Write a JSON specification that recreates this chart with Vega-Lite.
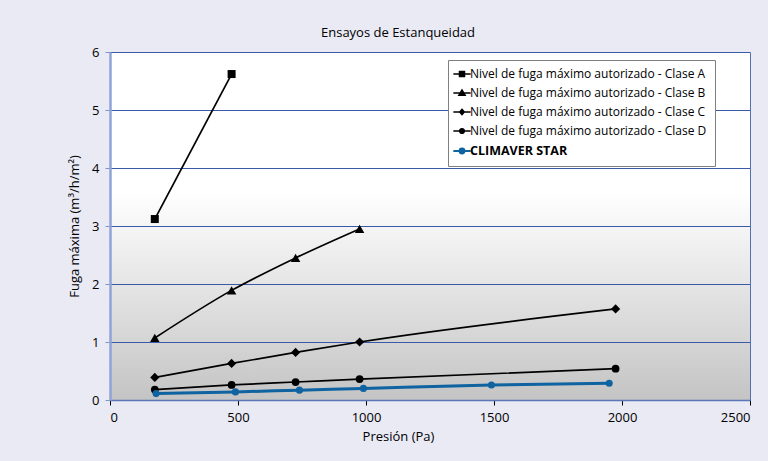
{
  "$schema": "https://vega.github.io/schema/vega-lite/v6.json",
  "width": 640,
  "height": 348,
  "autosize": {"type": "none"},
  "padding": {"left": 110, "top": 52, "right": 18, "bottom": 61},
  "background": "#EAEAF5",
  "config": {
    "font": "Open Sans",
    "view": {"stroke": "#5470B0", "strokeWidth": 1},
    "axis": {"labelFont": "Open Sans", "titleFont": "Open Sans", "labelColor": "#000", "titleColor": "#000", "labelFontSize": 13, "titleFontSize": 13, "titleFontWeight": "normal"}
  },
  "title": {"text": "Ensayos de Estanqueidad", "font": "Open Sans", "fontSize": 13, "fontWeight": "normal", "color": "#000", "anchor": "middle", "dx": -32, "offset": 6},
  "data": {
    "values": [
      {"serie": "Nivel de fuga máximo autorizado - Clase A", "presion": 175, "fuga": 3.12},
      {"serie": "Nivel de fuga máximo autorizado - Clase A", "presion": 475, "fuga": 5.62},
      {"serie": "Nivel de fuga máximo autorizado - Clase B", "presion": 175, "fuga": 1.07},
      {"serie": "Nivel de fuga máximo autorizado - Clase B", "presion": 475, "fuga": 1.89},
      {"serie": "Nivel de fuga máximo autorizado - Clase B", "presion": 725, "fuga": 2.45},
      {"serie": "Nivel de fuga máximo autorizado - Clase B", "presion": 975, "fuga": 2.95},
      {"serie": "Nivel de fuga máximo autorizado - Clase C", "presion": 175, "fuga": 0.39},
      {"serie": "Nivel de fuga máximo autorizado - Clase C", "presion": 475, "fuga": 0.63},
      {"serie": "Nivel de fuga máximo autorizado - Clase C", "presion": 725, "fuga": 0.82},
      {"serie": "Nivel de fuga máximo autorizado - Clase C", "presion": 975, "fuga": 1.0},
      {"serie": "Nivel de fuga máximo autorizado - Clase C", "presion": 1975, "fuga": 1.57},
      {"serie": "Nivel de fuga máximo autorizado - Clase D", "presion": 175, "fuga": 0.18},
      {"serie": "Nivel de fuga máximo autorizado - Clase D", "presion": 475, "fuga": 0.26},
      {"serie": "Nivel de fuga máximo autorizado - Clase D", "presion": 725, "fuga": 0.31},
      {"serie": "Nivel de fuga máximo autorizado - Clase D", "presion": 975, "fuga": 0.36},
      {"serie": "Nivel de fuga máximo autorizado - Clase D", "presion": 1975, "fuga": 0.54},
      {"serie": "CLIMAVER STAR", "presion": 180, "fuga": 0.11},
      {"serie": "CLIMAVER STAR", "presion": 490, "fuga": 0.14},
      {"serie": "CLIMAVER STAR", "presion": 740, "fuga": 0.17},
      {"serie": "CLIMAVER STAR", "presion": 990, "fuga": 0.2},
      {"serie": "CLIMAVER STAR", "presion": 1490, "fuga": 0.26},
      {"serie": "CLIMAVER STAR", "presion": 1950, "fuga": 0.29}
    ]
  },
  "encoding": {
    "x": {"field": "presion", "type": "quantitative", "scale": {"domain": [0, 2500], "nice": false},
      "axis": {"title": "Presión (Pa)", "format": "d", "values": [0, 500, 1000, 1500, 2000, 2500], "grid": false, "domainColor": "#5A78B8", "domainWidth": 1.5, "tickColor": "#000", "tickSize": 5, "labelPadding": 6, "titlePadding": 6, "titleX": 288, "zindex": 1}},
    "y": {"field": "fuga", "type": "quantitative", "scale": {"domain": [0, 6], "nice": false},
      "axis": {"title": "Fuga máxima (m³/h/m²)", "values": [0, 1, 2, 3, 4, 5, 6], "grid": false, "domainColor": "#8FA3D6", "domainWidth": 2.5, "tickColor": "#7F96C8", "tickSize": 5, "labelPadding": 6, "titlePadding": 10, "zindex": 1}}
  },
  "layer": [
    {
      "mark": {"type": "rect", "fill": {"gradient": "linear", "x1": 0, "y1": 0, "x2": 0, "y2": 1, "stops": [{"offset": 0, "color": "#FFFFFF"}, {"offset": 0.4, "color": "#FFFFFF"}, {"offset": 0.66, "color": "#E6E6E6"}, {"offset": 1, "color": "#C4C4C4"}]}},
      "encoding": {"x": {"datum": 0}, "x2": {"datum": 2500}, "y": {"datum": 6}, "y2": {"datum": 0}}
    },
    {"mark": {"type": "rule", "color": "#3A5AA8", "strokeWidth": 1, "yOffset": 0.5}, "encoding": {"y": {"datum": 1}, "x": {"datum": 0}, "x2": {"datum": 2500}}},
    {"mark": {"type": "rule", "color": "#3A5AA8", "strokeWidth": 1, "yOffset": 0.5}, "encoding": {"y": {"datum": 2}, "x": {"datum": 0}, "x2": {"datum": 2500}}},
    {"mark": {"type": "rule", "color": "#3A5AA8", "strokeWidth": 1, "yOffset": 0.5}, "encoding": {"y": {"datum": 3}, "x": {"datum": 0}, "x2": {"datum": 2500}}},
    {"mark": {"type": "rule", "color": "#3A5AA8", "strokeWidth": 1, "yOffset": 0.5}, "encoding": {"y": {"datum": 4}, "x": {"datum": 0}, "x2": {"datum": 2500}}},
    {"mark": {"type": "rule", "color": "#3A5AA8", "strokeWidth": 1, "yOffset": 0.5}, "encoding": {"y": {"datum": 5}, "x": {"datum": 0}, "x2": {"datum": 2500}}},
    {"mark": {"type": "rule", "color": "#3A5AA8", "strokeWidth": 1, "yOffset": 0.5}, "encoding": {"y": {"datum": 6}, "x": {"datum": 0}, "x2": {"datum": 2500}}},
    {
      "transform": [{"filter": "datum.serie !== 'CLIMAVER STAR'"}],
      "mark": {"type": "line", "interpolate": "monotone", "color": "#000", "strokeWidth": 1.7},
      "encoding": {"detail": {"field": "serie"}}
    },
    {
      "transform": [{"filter": "datum.serie === 'CLIMAVER STAR'"}],
      "mark": {"type": "line", "interpolate": "monotone", "color": "#0E63A0", "strokeWidth": 3}
    },
    {
      "transform": [{"filter": "datum.serie === 'Nivel de fuga máximo autorizado - Clase A'"}],
      "mark": {"type": "point", "shape": "square", "filled": true, "opacity": 1, "color": "#000", "size": 64}
    },
    {
      "transform": [{"filter": "datum.serie === 'Nivel de fuga máximo autorizado - Clase B'"}],
      "mark": {"type": "point", "shape": "triangle-up", "filled": true, "opacity": 1, "color": "#000", "size": 90}
    },
    {
      "transform": [{"filter": "datum.serie === 'Nivel de fuga máximo autorizado - Clase C'"}],
      "mark": {"type": "point", "shape": "diamond", "filled": true, "opacity": 1, "color": "#000", "size": 85}
    },
    {
      "transform": [{"filter": "datum.serie === 'Nivel de fuga máximo autorizado - Clase D'"}],
      "mark": {"type": "point", "shape": "circle", "filled": true, "opacity": 1, "color": "#000", "size": 60}
    },
    {
      "transform": [{"filter": "datum.serie === 'CLIMAVER STAR'"}],
      "mark": {"type": "point", "shape": "circle", "filled": true, "opacity": 1, "color": "#0E63A0", "size": 50}
    },
    {
      "mark": {"type": "point", "filled": true, "opacity": 0},
      "encoding": {
        "color": {"field": "serie", "type": "nominal",
          "scale": {"domain": ["Nivel de fuga máximo autorizado - Clase A", "Nivel de fuga máximo autorizado - Clase B", "Nivel de fuga máximo autorizado - Clase C", "Nivel de fuga máximo autorizado - Clase D", "CLIMAVER STAR"], "range": ["#000000", "#000000", "#000000", "#000000", "#0E63A0"]},
          "legend": {"title": null, "orient": "none", "legendX": 338, "legendY": 8, "zindex": 2, "padding": 8, "strokeColor": "#808080", "fillColor": "#FFFFFF", "symbolSize": 300, "symbolStrokeWidth": 1.3, "symbolOpacity": 1, "labelFont": "Open Sans", "labelFontSize": 12, "labelColor": "#000", "labelOffset": 2, "rowPadding": 7, "labelLimit": 400,
            "encode": {
              "symbols": {"update": {
                "shape": {"signal": "datum.value === 'Nivel de fuga máximo autorizado - Clase A' ? 'M-1,0H1M-0.3,-0.3H0.3V0.3H-0.3Z' : datum.value === 'Nivel de fuga máximo autorizado - Clase B' ? 'M-1,0H1M0,-0.38L0.38,0.28H-0.38Z' : datum.value === 'Nivel de fuga máximo autorizado - Clase C' ? 'M-1,0H1M0,-0.32L0.28,0L0,0.32L-0.28,0Z' : 'M-1,0H1M0.28,0A0.28,0.28,0,1,1,-0.28,0A0.28,0.28,0,1,1,0.28,0Z'"},
                "opacity": {"value": 1},
                "fill": {"signal": "datum.value === 'CLIMAVER STAR' ? '#0E63A0' : '#000000'"},
                "stroke": {"signal": "datum.value === 'CLIMAVER STAR' ? '#0E63A0' : '#000000'"},
                "strokeWidth": {"signal": "datum.value === 'CLIMAVER STAR' ? 2 : 1.3"}
              }},
              "labels": {"update": {
                "fontWeight": {"signal": "datum.value === 'CLIMAVER STAR' ? 'bold' : 'normal'"},
                "fontSize": {"signal": "datum.value === 'CLIMAVER STAR' ? 12.5 : 12"}
              }}
            }}}
      }
    }
  ]
}
